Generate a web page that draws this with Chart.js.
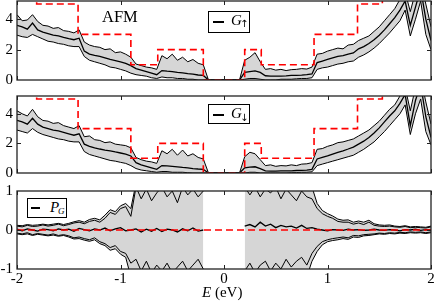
<!DOCTYPE html>
<html>
<head>
<meta charset="utf-8">
<script src="https://cdn.jsdelivr.net/npm/chart.js"></script>
<style>
body { margin: 0; width: 436px; height: 304px; position: relative; background: #fff; overflow: hidden;
       font-family: "Liberation Serif", serif; color: #000; }
canvas { position: absolute; left: 0; }
.box { position: absolute; border: 1px solid #000; background: #fff; box-sizing: border-box; }
.ln { position: absolute; height: 1.5px; background: #000; }
.tx { position: absolute; line-height: 1; white-space: nowrap; }
.arr { font-family: "DejaVu Sans", sans-serif; font-size: 10px; }
</style>
</head>
<body>
<canvas id="upChart" width="436" height="88" style="top:0"></canvas>
<canvas id="downChart" width="436" height="92" style="top:88px"></canvas>
<canvas id="polChart" width="436" height="124" style="top:180px"></canvas>

<div class="tx" style="left:102px;top:9px;font-size:16.5px">AFM</div>

<div class="box" style="left:208px;top:11px;width:42px;height:22px"></div>
<div class="ln" style="left:213px;top:21px;width:11px"></div>
<div class="tx" style="left:231px;top:13px;font-size:15px;font-style:italic">G</div>
<div class="tx arr" style="left:240px;top:19px">↑</div>

<div class="box" style="left:208px;top:104px;width:42px;height:20px"></div>
<div class="ln" style="left:213px;top:114px;width:11px"></div>
<div class="tx" style="left:231px;top:106px;font-size:15px;font-style:italic">G</div>
<div class="tx arr" style="left:240px;top:113px">↓</div>

<div class="box" style="left:27px;top:198px;width:40px;height:20px"></div>
<div class="ln" style="left:31px;top:207px;width:9px"></div>
<div class="tx" style="left:50px;top:200px;font-size:15px;font-style:italic">P</div>
<div class="tx" style="left:58px;top:207px;font-size:9px;font-style:italic">G</div>

<div class="tx" style="left:202px;top:285px;font-size:15px"><i>E</i> (eV)</div>

<script>
const energies = [
    -2.00, -1.95, -1.90, -1.85, -1.80, -1.75, -1.70, -1.65, -1.60, -1.55,
    -1.50, -1.45, -1.40, -1.35, -1.30, -1.25, -1.20, -1.15, -1.10, -1.05,
    -1.00, -0.95, -0.90, -0.85, -0.80, -0.75, -0.70, -0.65, -0.60, -0.55,
    -0.50, -0.45, -0.40, -0.35, -0.30, -0.25, -0.20, -0.15, -0.10, -0.05,
    0.00, 0.05, 0.10, 0.15, 0.20, 0.25, 0.30, 0.35, 0.40, 0.45,
    0.50, 0.55, 0.60, 0.65, 0.70, 0.75, 0.80, 0.85, 0.90, 0.95,
    1.00, 1.05, 1.10, 1.15, 1.20, 1.25, 1.30, 1.35, 1.40, 1.45,
    1.50, 1.55, 1.60, 1.65, 1.70, 1.75, 1.80, 1.85, 1.90, 1.95,
    2.00
];

// number of open channels (red dashed steps)
const stepEnergies = [-2, -1.81, -1.41, -0.9, -0.64, -0.2, 0.2, 0.36, 0.87, 1.29, 1.53, 2];
const channels = [6, 5, 3, 1, 2, 0, 2, 1, 3, 5, 6, 6];

const upMean = [
    3.6, 3.5, 3.35, 3.75, 3.3, 3.15, 3.05, 2.95, 2.9, 2.8,
    2.72, 2.65, 2.75, 1.9, 1.7, 1.62, 1.55, 1.45, 1.35, 1.28,
    1.2, 1.1, 0.95, 0.75, 0.65, 0.55, 0.45, 0.35, 0.62, 0.58,
    0.55, 0.5, 0.47, 0.42, 0.38, 0.33, 0.3, 0, 0, 0,
    0, 0, 0, 0, 0.5, 0.55, 0.6, 0.5, 0.28, 0.25,
    0.25, 0.26, 0.27, 0.3, 0.3, 0.32, 0.35, 0.4, 1.15, 1.25,
    1.35, 1.45, 1.55, 1.6, 1.7, 1.78, 2.05, 2.2, 2.4, 2.65,
    2.95, 3.3, 3.7, 4.1, 4.6, 5.2, 3.6, 4.8, 6.0, 4.0,
    2.6
];
const upHigh = [
    4.3, 3.9, 3.95, 4.3, 3.85, 3.6, 3.55, 3.4, 3.45, 3.25,
    3.2, 3.1, 3.3, 2.5, 2.3, 2.2, 2.15, 2.0, 2.05, 1.8,
    1.85, 1.7, 1.5, 1.05, 0.95, 0.85, 0.8, 0.7, 1.6, 1.4,
    1.7, 1.3, 1.5, 1.2, 1.35, 1.1, 1.0, 0, 0, 0,
    0, 0, 0, 0, 1.3, 1.5, 1.8, 1.2, 0.7, 0.75,
    0.65, 0.7, 0.62, 0.68, 0.7, 0.75, 0.72, 0.85, 1.7, 1.75,
    1.9, 2.0, 2.1, 2.05, 2.3, 2.35, 2.6, 2.75, 2.9, 3.2,
    3.5, 3.9, 4.3, 4.7, 5.3, 5.8, 4.5, 5.8, 6.5, 5.0,
    3.5
];
const upLow = [
    2.95, 2.85, 2.8, 3.0, 2.85, 2.7, 2.55, 2.5, 2.4, 2.35,
    2.25, 2.2, 2.2, 1.55, 1.3, 1.2, 1.1, 1.0, 0.85, 0.8,
    0.7, 0.6, 0.45, 0.35, 0.3, 0.25, 0.15, 0.1, 0.2, 0.15,
    0.15, 0.1, 0.1, 0.05, 0.05, 0, 0, 0, 0, 0,
    0, 0, 0, 0, 0.05, 0.1, 0.1, 0.05, 0, 0,
    0, 0.05, 0.05, 0.05, 0.08, 0.1, 0.1, 0.15, 0.7, 0.8,
    0.85, 0.95, 1.05, 1.1, 1.2, 1.25, 1.5, 1.65, 1.85, 2.1,
    2.4, 2.75, 3.1, 3.5, 3.9, 4.6, 2.9, 4.0, 5.2, 3.0,
    2.0
];

const downMean = [
    3.55, 3.45, 3.3, 3.7, 3.3, 3.1, 3.0, 2.9, 2.85, 2.75,
    2.65, 2.55, 2.65, 1.95, 1.8, 1.7, 1.62, 1.55, 1.5, 1.42,
    1.35, 1.28, 1.15, 0.7, 0.55, 0.45, 0.35, 0.25, 0.5, 0.48,
    0.45, 0.42, 0.38, 0.35, 0.3, 0.27, 0.25, 0, 0, 0,
    0, 0, 0, 0, 0.35, 0.4, 0.42, 0.3, 0.15, 0.13,
    0.13, 0.14, 0.15, 0.15, 0.17, 0.18, 0.2, 0.25, 0.95, 1.05,
    1.15, 1.28, 1.4, 1.5, 1.62, 1.75, 1.95, 2.15, 2.4, 2.7,
    3.05, 3.45, 3.85, 4.2, 4.7, 5.3, 3.2, 4.9, 6.0, 3.8,
    2.4
];
const downHigh = [
    4.2, 4.0, 3.85, 4.3, 3.8, 3.55, 3.5, 3.35, 3.4, 3.2,
    3.1, 3.0, 3.2, 2.45, 2.5, 2.25, 2.2, 2.05, 2.1, 1.95,
    1.9, 1.85, 1.7, 1.05, 0.9, 0.8, 0.75, 0.65, 1.5, 1.3,
    1.6, 1.2, 1.55, 1.15, 1.3, 1.05, 0.95, 0, 0, 0,
    0, 0, 0, 0, 1.1, 1.4, 1.3, 0.9, 0.5, 0.55,
    0.45, 0.5, 0.48, 0.55, 0.5, 0.6, 0.62, 0.7, 1.6, 1.65,
    1.8, 1.9, 2.05, 2.1, 2.2, 2.3, 2.5, 2.7, 2.9, 3.2,
    3.5, 3.9, 4.3, 4.6, 5.2, 5.8, 4.2, 5.8, 6.5, 4.8,
    3.3
];
const downLow = [
    2.9, 2.8, 2.7, 3.0, 2.75, 2.6, 2.5, 2.4, 2.3, 2.25,
    2.15, 2.1, 2.1, 1.45, 1.25, 1.15, 1.05, 0.95, 0.85, 0.8,
    0.72, 0.65, 0.5, 0.3, 0.2, 0.15, 0.1, 0.05, 0.1, 0.1,
    0.05, 0.05, 0.05, 0.02, 0, 0, 0, 0, 0, 0,
    0, 0, 0, 0, 0, 0.05, 0.05, 0, 0, 0,
    0, 0, 0, 0.02, 0.03, 0.05, 0.05, 0.08, 0.5, 0.6,
    0.7, 0.8, 0.9, 1.0, 1.1, 1.2, 1.4, 1.6, 1.85, 2.1,
    2.45, 2.8, 3.2, 3.6, 4.0, 4.6, 2.6, 4.0, 5.0, 2.8,
    1.9
];

const polMean = [
    0.02, -0.02, 0.03, 0, -0.03, 0.02, 0.01, -0.02, 0.03, 0,
    0.02, -0.03, 0.04, 0.01, -0.02, 0.03, 0, 0.05, -0.02, 0.03,
    0.06, -0.02, 0, 0.03, -0.05, 0.02, -0.03, 0.04, -0.04, 0.02,
    0, -0.05, 0.03, -0.02, 0.05, -0.03, 0, null, null, null,
    null, null, null, null, 0.1, 0.14, 0.08, 0.2, 0.1, 0.15,
    0.06, 0.12, 0.08, 0.1, 0.05, 0.12, 0.04, 0.06, 0.02, 0,
    -0.02, 0.01, 0, -0.01, 0.02, 0, 0.01, -0.01, 0, 0.02,
    0, -0.01, 0.01, 0, -0.02, 0.01, 0, 0.02, -0.01, 0.01,
    0
];
const polHigh = [
    0.1, 0.08, 0.12, 0.09, 0.1, 0.13, 0.1, 0.12, 0.15, 0.11,
    0.14, 0.18, 0.2, 0.16, 0.22, 0.25, 0.2, 0.3, 0.45, 0.4,
    0.55, 0.6, 0.35, 1.1, 0.8, 1.05, 0.75, 0.95, 1.1, 0.85,
    1.0, 0.7, 1.1, 0.9, 1.05, 0.85, 1.0, null, null, null,
    null, null, null, null, 1.1, 0.9, 1.1, 0.85, 1.05, 0.95,
    1.1, 0.8, 1.05, 0.9, 0.75, 1.0, 0.85, 0.8, 0.55, 0.42,
    0.35, 0.3, 0.22, 0.2, 0.2, 0.15, 0.18, 0.14, 0.2, 0.12,
    0.1, 0.09, 0.1, 0.08, 0.07, 0.09, 0.06, 0.07, 0.06, 0.05,
    0.08
];
const polLow = [
    -0.08, -0.1, -0.07, -0.12, -0.09, -0.11, -0.13, -0.1, -0.14, -0.12,
    -0.15, -0.2, -0.18, -0.22, -0.25, -0.2, -0.3, -0.35, -0.45, -0.4,
    -0.55, -0.6, -0.85, -0.75, -1.05, -0.8, -1.1, -0.9, -1.05, -0.85,
    -1.1, -0.95, -0.8, -1.05, -0.9, -0.75, -1.0, null, null, null,
    null, null, null, null, -1.05, -0.85, -1.1, -0.9, -0.8, -1.05,
    -0.85, -1.0, -0.75, -0.95, -0.8, -0.7, -0.9, -0.6, -0.42, -0.3,
    -0.25, -0.22, -0.2, -0.18, -0.2, -0.14, -0.15, -0.12, -0.11, -0.1,
    -0.08, -0.09, -0.07, -0.08, -0.06, -0.07, -0.05, -0.06, -0.05, -0.07,
    -0.05
];
// outermost curves of the polarisation spread (grey envelope)
const polOuterHigh = [
    0.12, 0.11, 0.14, 0.12, 0.13, 0.15, 0.13, 0.15, 0.17, 0.14,
    0.17, 0.21, 0.24, 0.2, 0.27, 0.3, 0.26, 0.38, 0.52, 0.47,
    0.62, 0.68, 0.55, 1.2, 1.2, 1.2, 1.2, 1.2, 1.2, 1.2,
    1.2, 1.2, 1.2, 1.2, 1.2, 1.2, 1.2, null, null, null,
    null, null, null, null, 1.2, 1.2, 1.2, 1.2, 1.2, 1.2,
    1.2, 1.2, 1.2, 1.2, 1.2, 1.2, 1.2, 1.1, 0.68, 0.5,
    0.42, 0.36, 0.28, 0.25, 0.26, 0.2, 0.23, 0.2, 0.25, 0.16,
    0.13, 0.12, 0.13, 0.1, 0.09, 0.11, 0.08, 0.09, 0.08, 0.07,
    0.1
];
const polOuterLow = [
    -0.1, -0.12, -0.1, -0.14, -0.11, -0.13, -0.15, -0.13, -0.16, -0.14,
    -0.18, -0.23, -0.22, -0.26, -0.29, -0.25, -0.35, -0.4, -0.52, -0.48,
    -0.62, -0.7, -1.2, -1.2, -1.2, -1.2, -1.2, -1.2, -1.2, -1.2,
    -1.2, -1.2, -1.2, -1.2, -1.2, -1.2, -1.2, null, null, null,
    null, null, null, null, -1.2, -1.2, -1.2, -1.2, -1.2, -1.2,
    -1.2, -1.2, -1.2, -1.2, -1.2, -1.2, -1.2, -0.8, -0.55, -0.38,
    -0.3, -0.27, -0.25, -0.22, -0.24, -0.18, -0.19, -0.15, -0.14, -0.12,
    -0.1, -0.11, -0.09, -0.1, -0.08, -0.09, -0.07, -0.08, -0.07, -0.09,
    -0.07
];
const zeroEnergies = [-2, 2];
const zeroLevel = [0, 0];

Chart.defaults.font.family = '"Liberation Serif", serif';
Chart.defaults.font.size = 15;
Chart.defaults.color = '#000';

function pts(xs, ys) {
    return xs.map((x, i) => ({ x: x, y: ys[i] }));
}

// box round the plot plus inward tick marks on all four sides
const frameTicks = {
    id: 'frameTicks',
    afterDraw(chart) {
        const { ctx, chartArea: a, scales } = chart;
        ctx.save();
        ctx.strokeStyle = '#222';
        ctx.lineWidth = 1;
        ctx.beginPath();
        scales.x.ticks.forEach(t => {
            const px = Math.round(scales.x.getPixelForValue(t.value)) + 0.5;
            ctx.moveTo(px, a.bottom); ctx.lineTo(px, a.bottom - 4);
            ctx.moveTo(px, a.top); ctx.lineTo(px, a.top + 4);
        });
        scales.y.ticks.forEach(t => {
            if (t.value <= scales.y.min || t.value >= scales.y.max) return;
            const py = Math.round(scales.y.getPixelForValue(t.value)) + 0.5;
            ctx.moveTo(a.left, py); ctx.lineTo(a.left + 4, py);
            ctx.moveTo(a.right, py); ctx.lineTo(a.right - 4, py);
        });
        ctx.stroke();
        ctx.lineWidth = 1.3;
        ctx.strokeRect(a.left, a.top, a.right - a.left, a.bottom - a.top);
        ctx.restore();
    }
};

function curve(xs, ys, width, fill) {
    return {
        data: pts(xs, ys),
        borderColor: '#000',
        borderWidth: width,
        pointRadius: 0,
        backgroundColor: '#d6d6d6',
        fill: fill
    };
}

function makePanel(id, mean, high, low, outer, stepX, stepY, yMin, yMax, yStep, labelEvery, pad, showX) {
    const datasets = [
        {
            data: pts(stepX, stepY),
            stepped: 'before',
            borderColor: '#ff0000',
            borderDash: [7, 4],
            borderWidth: 1.6,
            pointRadius: 0,
            fill: false
        },
        curve(energies, mean, 1.3, false),
        curve(energies, high, 1, outer ? false : '+1'),
        curve(energies, low, 1, false)
    ];
    if (outer) {
        datasets.push(curve(energies, outer[0], 1, '+1'));
        datasets.push(curve(energies, outer[1], 1, false));
    }
    return new Chart(document.getElementById(id), {
        type: 'line',
        data: { datasets: datasets },
        options: {
            responsive: false,
            animation: false,
            clip: 0,
            layout: { padding: pad },
            plugins: {
                legend: { display: false },
                tooltip: { enabled: false },
                filler: { drawTime: 'beforeDatasetsDraw' }
            },
            scales: {
                x: {
                    type: 'linear',
                    min: -2,
                    max: 2,
                    ticks: {
                        display: showX,
                        stepSize: 0.5,
                        autoSkip: false,
                        maxRotation: 0,
                        padding: 1,
                        callback: v => Number.isInteger(v) ? String(v) : null
                    },
                    grid: { display: false, drawTicks: false },
                    border: { display: false },
                    afterFit: s => {
                        s.height = showX ? 35 : 0;
                        s.paddingLeft = 0;
                        s.paddingRight = 0;
                    }
                },
                y: {
                    min: yMin,
                    max: yMax,
                    ticks: {
                        stepSize: yStep,
                        autoSkip: false,
                        padding: 4,
                        callback: v => (Number.isInteger(v) && v % labelEvery === 0) ? String(v) : null
                    },
                    grid: { display: false, drawTicks: false },
                    border: { display: false },
                    afterFit: s => {
                        s.width = 17;
                        s.paddingTop = 0;
                        s.paddingBottom = 0;
                    }
                }
            }
        },
        plugins: [frameTicks]
    });
}

makePanel('upChart', upMean, upHigh, upLow, null, stepEnergies, channels,
        0, 5.2, 1, 2, { top: 1, bottom: 8, left: 0, right: 5 }, false);
makePanel('downChart', downMean, downHigh, downLow, null, stepEnergies, channels,
        0, 5.2, 1, 2, { top: 8, bottom: 7, left: 0, right: 5 }, false);
makePanel('polChart', polMean, polHigh, polLow, [polOuterHigh, polOuterLow], zeroEnergies, zeroLevel,
        -1, 1, 0.5, 1, { top: 11, bottom: 0, left: 0, right: 5 }, true);
</script>
</body>
</html>
